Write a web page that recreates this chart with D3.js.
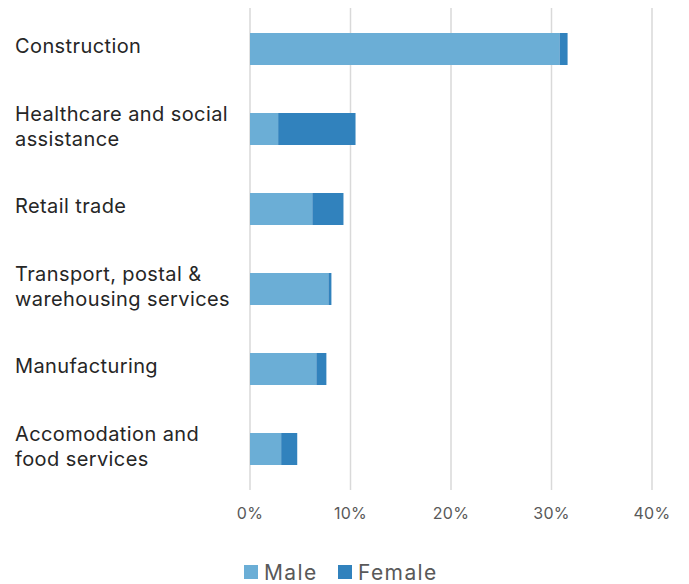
<!DOCTYPE html>
<html>
<head>
<meta charset="utf-8">
<script src="https://cdn.jsdelivr.net/npm/d3@7"></script>
<style>
  body { margin: 0; background: #fff; }
  svg { display: block; font-family: "Inter", "Noto Sans", sans-serif; }
</style>
</head>
<body>
<svg id="chart" width="689" height="584"></svg>
<script>
// data
var categories = [
  ["Construction"],
  ["Healthcare and social", "assistance"],
  ["Retail trade"],
  ["Transport, postal &", "warehousing services"],
  ["Manufacturing"],
  ["Accomodation and", "food services"]
];
var male = [30.8, 2.8, 6.2, 7.8, 6.6, 3.1];
var female = [0.8, 7.7, 3.1, 0.3, 1.0, 1.6];
var xTicks = [0, 10, 20, 30, 40];
var seriesNames = ["Male", "Female"];
var colors = ["#6baed6", "#3182bd"];

var svg = d3.select("#chart");

var x = d3.scaleLinear().domain([0, 40]).range([250, 652]);
var y = d3.scaleBand()
  .domain(d3.range(categories.length))
  .range([9, 489])
  .paddingInner(0.6)
  .paddingOuter(0.3);

// gridlines
svg.append("g")
  .selectAll("line")
  .data(xTicks)
  .enter()
  .append("line")
  .attr("x1", function (d) { return x(d); })
  .attr("x2", function (d) { return x(d); })
  .attr("y1", 8)
  .attr("y2", 490)
  .attr("stroke", "#d9d9d9")
  .attr("stroke-width", 1.5);

// stacked bars
var rows = categories.map(function (c, i) { return { i: i, Male: male[i], Female: female[i] }; });
var stack = d3.stack().keys(seriesNames)(rows);

svg.append("g")
  .selectAll("g")
  .data(stack)
  .enter()
  .append("g")
  .attr("fill", function (d, k) { return colors[k]; })
  .selectAll("rect")
  .data(function (d) { return d; })
  .enter()
  .append("rect")
  .attr("x", function (d) { return x(d[0]); })
  .attr("width", function (d) { return x(d[1]) - x(d[0]); })
  .attr("y", function (d) { return y(d.data.i); })
  .attr("height", y.bandwidth());

// category labels
var lineH = 25;
var labels = svg.append("g")
  .selectAll("text")
  .data(categories)
  .enter()
  .append("text")
  .attr("x", 15)
  .attr("font-size", 20)
  .attr("letter-spacing", 0.4)
  .attr("fill", "#262626");
labels.each(function (lines, i) {
  var cy = y(i) + y.bandwidth() / 2;
  var first = cy - (lines.length - 1) * lineH / 2 + 4;
  d3.select(this).selectAll("tspan")
    .data(lines)
    .enter()
    .append("tspan")
    .attr("x", 15)
    .attr("y", function (d, j) { return first + j * lineH; })
    .text(function (d) { return d; });
});

// x axis labels
svg.append("g")
  .selectAll("text")
  .data(xTicks)
  .enter()
  .append("text")
  .attr("x", function (d) { return x(d); })
  .attr("y", 519)
  .attr("text-anchor", "middle")
  .attr("font-size", 16)
  .attr("letter-spacing", 0.3)
  .attr("fill", "#595959")
  .text(function (d) { return d + "%"; });

// legend
var legendX = [244, 338];
var legend = svg.append("g")
  .selectAll("g")
  .data(seriesNames)
  .enter()
  .append("g")
  .attr("transform", function (d, i) { return "translate(" + legendX[i] + ",565)"; });
legend.append("rect")
  .attr("width", 14)
  .attr("height", 14)
  .attr("fill", function (d, i) { return colors[i]; });
legend.append("text")
  .attr("x", 20)
  .attr("y", 14.5)
  .attr("font-size", 21)
  .attr("letter-spacing", 1.4)
  .attr("fill", "#595959")
  .text(function (d) { return d; });
</script>
</body>
</html>
